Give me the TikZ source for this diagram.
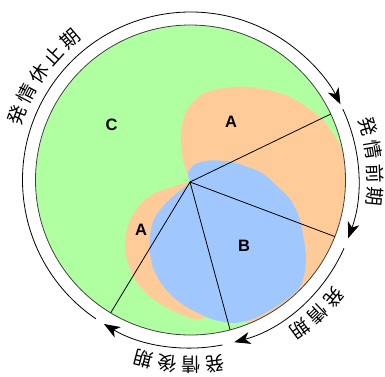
\documentclass[tikz,border=0pt]{standalone}
\usepackage{fontspec}
\setmainfont{Liberation Sans}
\newfontfamily\cjk{Noto Sans CJK JP}
\usetikzlibrary{arrows.meta,calc}
\definecolor{cgreen}{RGB}{176,255,160}
\definecolor{corange}{RGB}{255,204,153}
\definecolor{cblue}{RGB}{160,200,255}
\begin{document}
\begin{tikzpicture}[x=1pt,y=1pt,
  ring/.style={line width=0.8pt,-{Stealth[length=16pt,width=12pt,inset=4.5pt]}},
  spoke/.style={line width=0.8pt,black},
  region/.style={font=\bfseries\fontsize{16.5}{18}\selectfont},
  stage/.style={font=\cjk\fontsize{19}{21}\selectfont,inner sep=0pt}]
\useasboundingbox (0,-376) rectangle (385,0);
\coordinate (C) at (190.5,-180);
\coordinate (H) at (190,-182);
\fill[cgreen] (C) circle[radius=155];
\begin{scope}
\clip (C) circle[radius=155];
\fill[corange] plot[smooth,tension=0.6] coordinates {(190,-182) (187,-173) (183,-160) (181,-145) (181,-132) (184,-117) (192,-103) (207,-92) (233,-87) (258,-88) (290,-97) (320,-117) (336,-138) (345,-155)}
  -- (352,-168) -- (372,-180) -- (372,-262) -- (320,-335) -- (252,-345)
  -- plot[smooth,tension=0.6] coordinates {(246,-318) (225,-314) (212,-316) (200,-319) (190,-318) (173,-311) (153,-299) (137,-283) (128,-263) (125,-245) (127,-229) (134,-213) (148,-197) (168,-188) (190,-182)}
  -- cycle;
\fill[cblue] plot[smooth cycle,tension=0.6] coordinates {(189,-183) (188,-173) (194,-165) (205,-161) (217,-160.5) (232,-162) (245,-166) (262,-173) (277,-186) (290,-199) (299,-217) (304,-240) (306,-258) (304,-276) (299,-288) (287,-299) (272,-309) (255,-318) (235,-323) (215,-320) (200,-314) (185,-306) (172,-296) (161,-283) (153,-268) (150,-252) (150,-236) (154,-219) (165,-204) (178,-192)};
\end{scope}
\draw[line width=0.8pt,black!75] (C) circle[radius=155];
\coordinate (P1) at ($(C)+(25.2:155)$);
\coordinate (P2) at ($(C)+(-21.4:155)$);
\coordinate (P3) at ($(C)+(-75.2:155)$);
\coordinate (P4) at ($(C)+(-121:155)$);
\draw[spoke] (H) -- (P1);
\draw[spoke] (H) -- (P2);
\draw[spoke] (H) -- (P3);
\draw[spoke] (H) -- (P4);
\draw[ring] ($(C)+(235.7:168)$) arc[start angle=235.7,end angle=26.8,radius=168];
\draw[ring] ($(C)+(25:168)$) arc[start angle=25,end angle=-20.3,radius=168];
\draw[ring] ($(C)+(-24:168)$) arc[start angle=-24,end angle=-74.9,radius=168];
\draw[ring] ($(C)+(-79:168)$) arc[start angle=-79,end angle=-121,radius=168];
\foreach \ch [count=\i from 0] in {発,情,休,止,期}
  \node[stage,rotate={159.6-7.3*\i-90}] (a\i) at ($(C)+({159.6-7.3*\i}:185)$) {\ch};
\foreach \ch [count=\i from 0] in {発,情,前,期}
  \node[stage,rotate={16.7-7.3*\i-90}] (b\i) at ($(C)+({16.7-7.3*\i}:185)$) {\ch};
\foreach \ch [count=\i from 0] in {発,情,期}
  \node[stage,rotate={-39.2-7.3*\i-90}] (c\i) at ($(C)+({-39.2-7.3*\i}:185)$) {\ch};
\foreach \ch [count=\i from 0] in {発,情,後,期}
  \node[stage,rotate={-82.4-7.4*\i-90}] (d\i) at ($(C)+({-82.4-7.4*\i}:185)$) {\ch};
\node[region] (lc) at (111.5,-124.5) {C};
\node[region] (la1) at (231,-121.5) {A};
\node[region] (la2) at (141,-230) {A};
\node[region] (lb) at (244,-245.5) {B};
\end{tikzpicture}
\end{document}
